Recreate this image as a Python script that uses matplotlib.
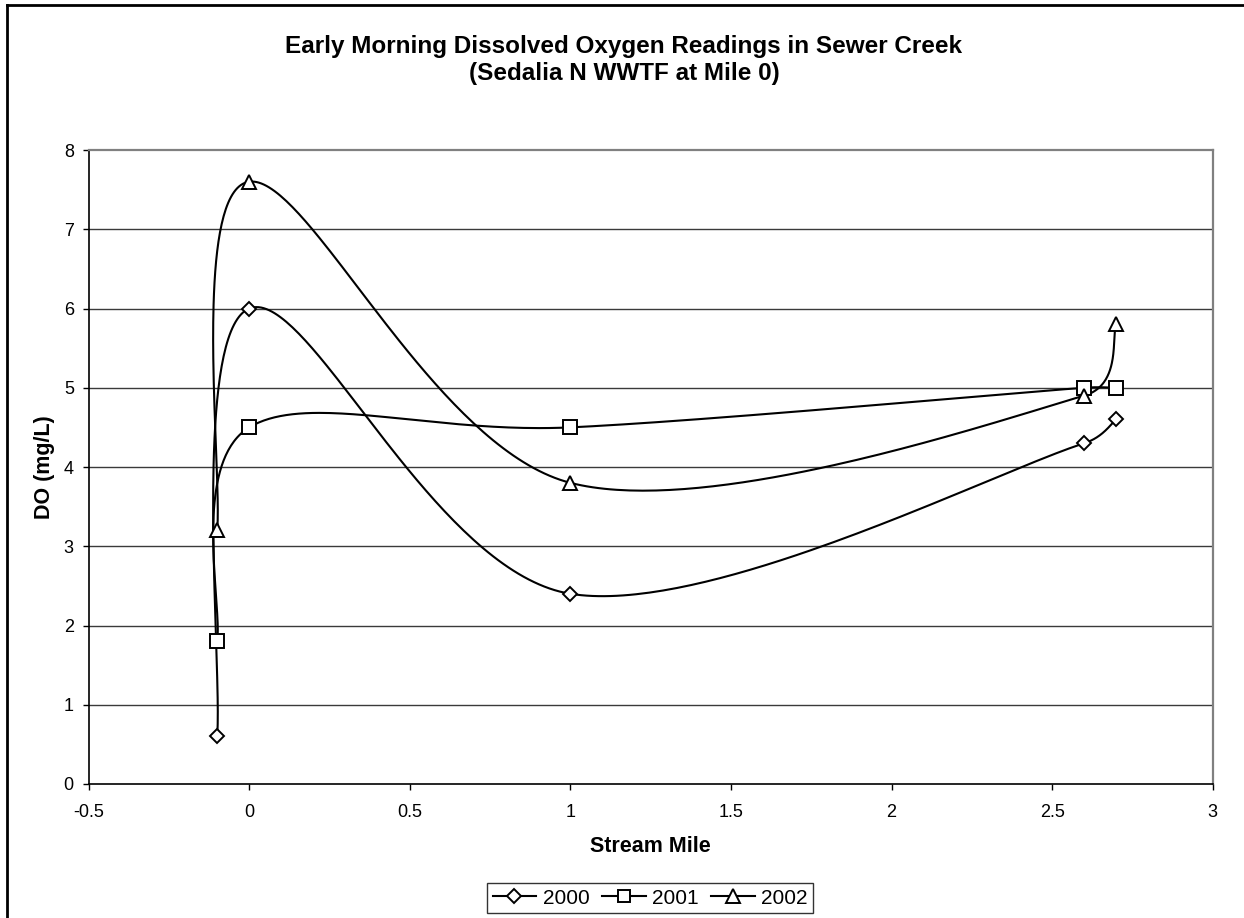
import matplotlib
matplotlib.use("Agg")
import matplotlib.pyplot as plt
import numpy as np
from matplotlib.lines import Line2D

plt.rcParams["font.family"] = ["Liberation Sans", "DejaVu Sans"]

# data
miles = [-0.1, 0.0, 1.0, 2.6, 2.7]
do_2000 = [0.6, 6.0, 2.4, 4.3, 4.6]
do_2001 = [1.8, 4.5, 4.5, 5.0, 5.0]
do_2002 = [3.2, 7.6, 3.8, 4.9, 5.8]
years = ["2000", "2001", "2002"]
markers = ["D", "s", "^"]
msizes = [7.5, 10, 10.5]

W, H = 1244, 918
AX_L, AX_R, AX_T, AX_B = 88.7, 1212.7, 150, 784
XMIN, XMAX, YMIN, YMAX = -0.5, 3.0, 0, 8
SX = (AX_R - AX_L) / (XMAX - XMIN)
SY = (AX_B - AX_T) / (YMAX - YMIN)


def smooth(xs, ys, n=80):
    """Excel-like Bezier smoothing, worked out in pixel space."""
    P = np.column_stack([np.asarray(xs) * SX, np.asarray(ys) * SY])
    out = []
    for i in range(len(P) - 1):
        p0 = P[i - 1] if i > 0 else P[i]
        p1, p2 = P[i], P[i + 1]
        p3 = P[i + 2] if i + 2 < len(P) else P[i + 1]
        seg = np.hypot(*(p2 - p1))
        arms = []
        for a in ((p2 - p0) / 6.0, (p3 - p1) / 6.0):
            ln = np.hypot(*a)
            if ln > 0.5 * seg:
                a = a * (0.5 * seg / ln)
            arms.append(a)
        c1, c2 = p1 + arms[0], p2 - arms[1]
        t = np.linspace(0, 1, n)[:, None]
        b = ((1 - t) ** 3) * p1 + 3 * ((1 - t) ** 2) * t * c1 \
            + 3 * (1 - t) * t ** 2 * c2 + t ** 3 * p2
        out.append(b if i == 0 else b[1:])
    b = np.vstack(out)
    return b[:, 0] / SX, b[:, 1] / SY


fig = plt.figure(figsize=(W / 100, H / 100), dpi=100)
ax = fig.add_axes([AX_L / W, 1 - AX_B / H, (AX_R - AX_L) / W, (AX_B - AX_T) / H])

for vals, m, ms in zip([do_2000, do_2001, do_2002], markers, msizes):
    sx, sy = smooth(miles, vals)
    ax.plot(sx, sy, color="black", lw=1.5, zorder=3)
    ax.plot(miles, vals, ls="none", marker=m, ms=ms, mfc="white",
            mec="black", mew=1.4, zorder=4)

ax.set_xlim(XMIN, XMAX)
ax.set_ylim(YMIN, YMAX)
ax.set_xticks(np.arange(-0.5, 3.01, 0.5))
ax.set_xticklabels(["-0.5", "0", "0.5", "1", "1.5", "2", "2.5", "3"])
ax.set_yticks(range(0, 9))
ax.tick_params(axis="both", direction="out", length=4.2, width=1, labelsize=13, colors="black")
ax.tick_params(axis="x", pad=10)
ax.tick_params(axis="y", pad=6.5)
for y in range(1, 8):
    ax.axhline(y, color="#3a3a3a", lw=1, zorder=1)
for s in ("top", "right"):
    ax.spines[s].set_color("#808080")
    ax.spines[s].set_linewidth(1.6)
for s in ("left", "bottom"):
    ax.spines[s].set_color("black")
    ax.spines[s].set_linewidth(1.2)

ax.set_xlabel("Stream Mile", fontsize=15.5, fontweight="bold", labelpad=11)
ax.set_ylabel("DO (mg/L)", fontsize=15.5, fontweight="bold", labelpad=6)

fig.text(624 / W, 1 - 53 / H, "Early Morning Dissolved Oxygen Readings in Sewer Creek",
         ha="center", va="baseline", fontsize=17.5, fontweight="bold")
fig.text(624 / W, 1 - 80 / H, "(Sedalia N WWTF at Mile 0)",
         ha="center", va="baseline", fontsize=17.5, fontweight="bold")

handles = [Line2D([], [], color="black", lw=1.5, marker=m, ms=ms * 0.9, mfc="white",
                  mec="black", mew=1.4) for m, ms in zip(markers, msizes)]
leg = fig.legend(handles, years, loc="center", bbox_to_anchor=(650 / W, 1 - 898 / H),
                 ncol=3, fontsize=15, frameon=True, fancybox=False, handlelength=2.1,
                 handletextpad=0.3, columnspacing=0.6, borderpad=0.25, borderaxespad=0)
leg.get_frame().set_edgecolor("black")
leg.get_frame().set_linewidth(1.0)

# outer chart frame (only left and top edges visible)
fig.add_artist(Line2D([7 / W, 7 / W], [0, 1 - 5 / H], transform=fig.transFigure,
                      color="black", lw=2))
fig.add_artist(Line2D([7 / W, 1], [1 - 5 / H, 1 - 5 / H], transform=fig.transFigure,
                      color="black", lw=2))

fig.savefig("out.png", dpi=100)
